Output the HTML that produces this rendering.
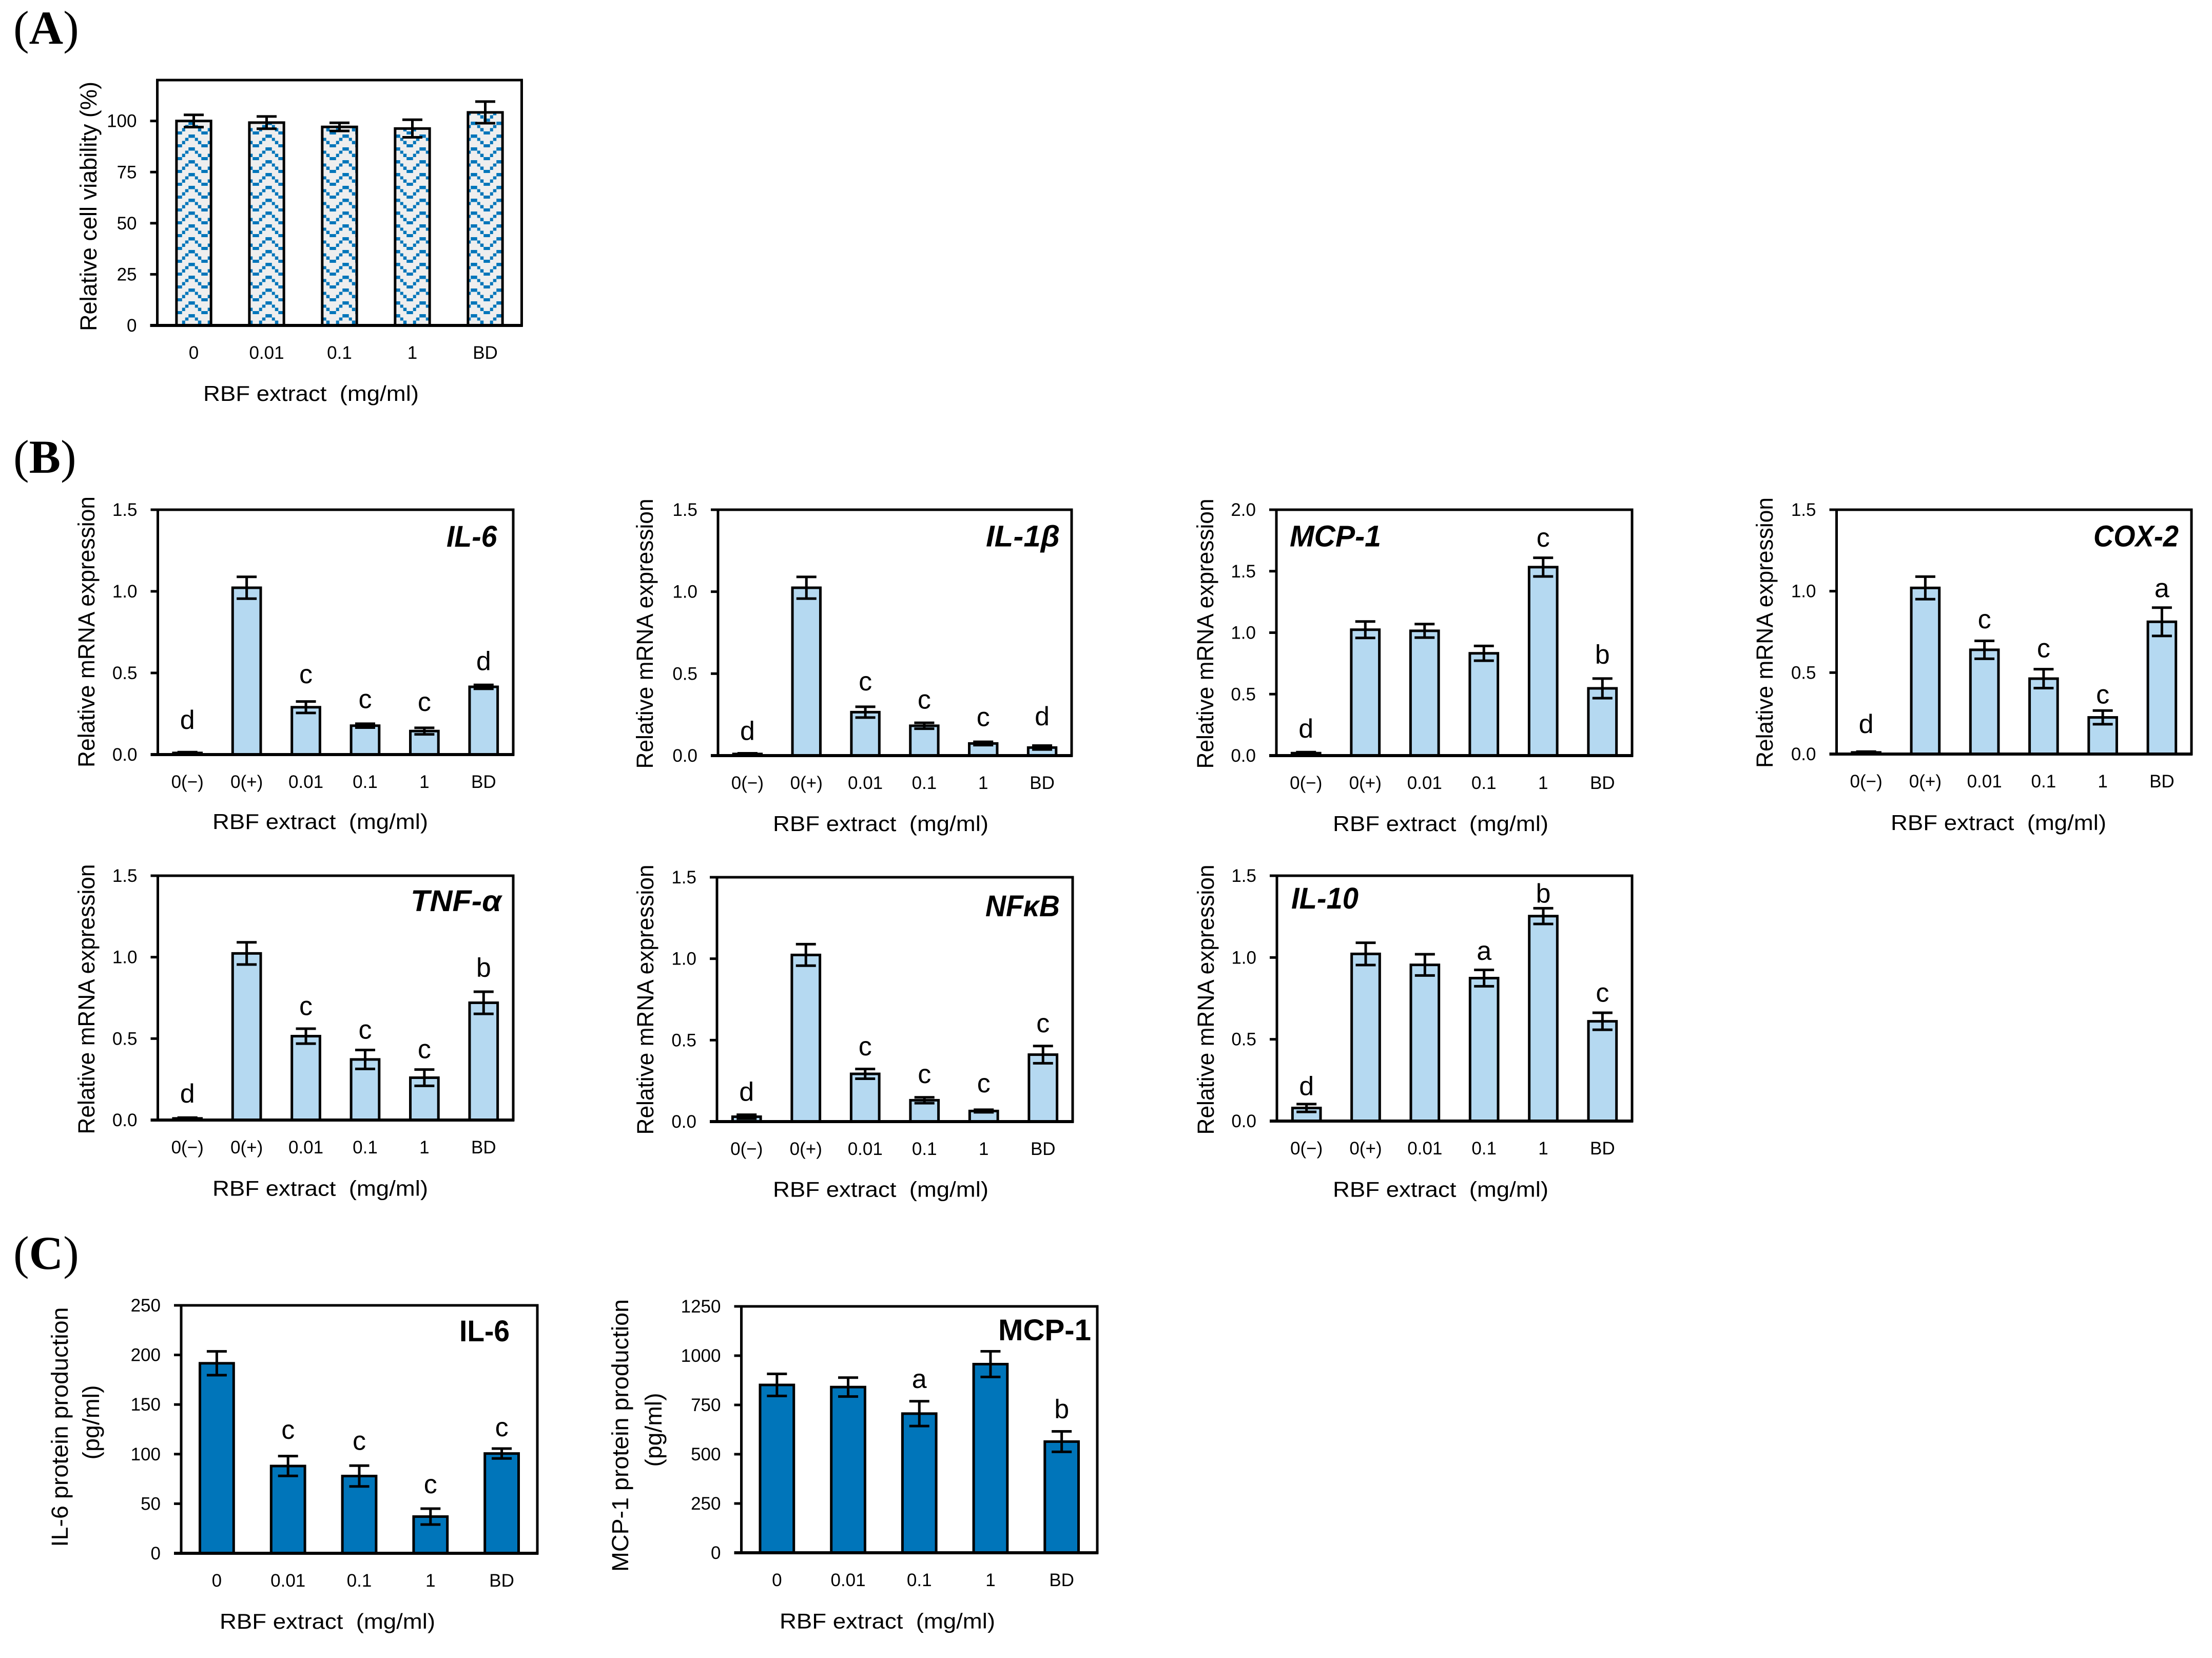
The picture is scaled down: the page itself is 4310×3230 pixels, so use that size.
<!DOCTYPE html>
<html lang="en">
<head>
<meta charset="utf-8">
<title>RBF extract bar charts</title>
<style>
html,body{margin:0;padding:0;background:#fff;}
svg{display:block;}
text{font-family:"Liberation Sans",sans-serif;fill:#000;}
.panel-label{font-family:"Liberation Serif",serif;font-size:92px;}
</style>
</head>
<body>
<svg id="figure" xmlns="http://www.w3.org/2000/svg" width="4310" height="3230" viewBox="0 0 4310 3230">
<defs>
<pattern id="wave" patternUnits="userSpaceOnUse" x="348.25" y="262" width="50" height="25" shape-rendering="crispEdges">
<rect x="0" y="0" width="50" height="25" fill="#eeeeee"/>
<rect x="18.75" y="0" width="12.5" height="6.25" fill="#0075ba"/>
<rect x="12.5" y="6.25" width="6.25" height="6.25" fill="#0075ba"/>
<rect x="31.25" y="6.25" width="6.25" height="6.25" fill="#0075ba"/>
<rect x="6.25" y="12.5" width="6.25" height="6.25" fill="#0075ba"/>
<rect x="37.5" y="12.5" width="6.25" height="6.25" fill="#0075ba"/>
<rect x="0" y="18.75" width="6.25" height="6.25" fill="#0075ba"/>
<rect x="43.75" y="18.75" width="6.25" height="6.25" fill="#0075ba"/>
</pattern>
</defs>
<text class="panel-label" x="26" y="85">(<tspan font-weight="bold">A</tspan>)</text>
<text class="panel-label" x="26" y="921">(<tspan font-weight="bold">B</tspan>)</text>
<text class="panel-label" x="26" y="2472">(<tspan font-weight="bold">C</tspan>)</text>
</svg>
<script>
// Categories
const doseCategories5 = ['0', '0.01', '0.1', '1', 'BD'];
const doseCategories6 = ['0(\u2212)', '0(+)', '0.01', '0.1', '1', 'BD'];

// Axis ticks and their labels
const viabilityTicks = [0, 25, 50, 75, 100];
const viabilityTickLabels = ['0', '25', '50', '75', '100'];
const mrnaTicks = [0, 0.5, 1, 1.5];
const mrnaTickLabels = ['0.0', '0.5', '1.0', '1.5'];
const mcpTicks = [0, 0.5, 1, 1.5, 2];
const mcpTickLabels = ['0.0', '0.5', '1.0', '1.5', '2.0'];
const il6ProteinTicks = [0, 50, 100, 150, 200, 250];
const il6ProteinTickLabels = ['0', '50', '100', '150', '200', '250'];
const mcpProteinTicks = [0, 250, 500, 750, 1000, 1250];
const mcpProteinTickLabels = ['0', '250', '500', '750', '1000', '1250'];

// Series: means, error half-widths, significance letters, letter lift above error cap (value units)
const viabilityValues = [100, 99.2, 97.1, 96.3, 104.2];
const viabilityErrors = [3, 3, 2, 4.3, 5.3];
const viabilityLetters = ['', '', '', '', ''];
const viabilityLifts = [0, 0, 0, 0, 0];

const il6Values = [0.01, 1.022, 0.29, 0.177, 0.144, 0.415];
const il6Errors = [0.005, 0.067, 0.035, 0.012, 0.02, 0.012];
const il6Letters = ['d', '', 'c', 'c', 'c', 'd'];
const il6Lifts = [0.142, 0, 0.112, 0.095, 0.104, 0.091];

const il1bValues = [0.01, 1.024, 0.265, 0.182, 0.074, 0.049];
const il1bErrors = [0.004, 0.066, 0.033, 0.018, 0.01, 0.012];
const il1bLetters = ['d', '', 'c', 'c', 'c', 'd'];
const il1bLifts = [0.082, 0, 0.099, 0.086, 0.096, 0.123];

const mcp1Values = [0.02, 1.024, 1.015, 0.832, 1.533, 0.547];
const mcp1Errors = [0.008, 0.067, 0.055, 0.06, 0.076, 0.08];
const mcp1Letters = ['d', '', '', '', 'c', 'b'];
const mcp1Lifts = [0.119, 0, 0, 0, 0.091, 0.122];

const cox2Values = [0.01, 1.02, 0.64, 0.463, 0.225, 0.812];
const cox2Errors = [0.005, 0.069, 0.055, 0.058, 0.042, 0.087];
const cox2Letters = ['d', '', 'c', 'c', 'c', 'a'];
const cox2Lifts = [0.114, 0, 0.077, 0.073, 0.043, 0.064];

const tnfValues = [0.01, 1.023, 0.515, 0.372, 0.26, 0.72];
const tnfErrors = [0.005, 0.068, 0.046, 0.058, 0.05, 0.068];
const tnfLetters = ['d', '', 'c', 'c', 'c', 'b'];
const tnfLifts = [0.092, 0, 0.083, 0.07, 0.07, 0.092];

const nfkbValues = [0.03, 1.023, 0.293, 0.131, 0.065, 0.411];
const nfkbErrors = [0.012, 0.066, 0.03, 0.018, 0.008, 0.053];
const nfkbLetters = ['d', '', 'c', 'c', 'c', 'c'];
const nfkbLifts = [0.086, 0, 0.083, 0.087, 0.107, 0.085];

const il10Values = [0.08, 1.022, 0.955, 0.874, 1.253, 0.61];
const il10Errors = [0.024, 0.068, 0.065, 0.05, 0.048, 0.052];
const il10Letters = ['d', '', '', 'a', 'b', 'c'];
const il10Lifts = [0.054, 0, 0, 0.061, 0.036, 0.068];

const il6ProteinValues = [191.6, 88, 77.9, 37, 100.6];
const il6ProteinErrors = [12, 10, 10.5, 8, 5];
const il6ProteinLetters = ['', 'c', 'c', 'c', 'c'];
const il6ProteinLifts = [0, 17.4, 16, 15.6, 12.3];

const mcpProteinValues = [851.5, 840.6, 706, 957, 564];
const mcpProteinErrors = [56, 48, 63, 65, 52];
const mcpProteinLetters = ['', '', 'a', '', 'b'];
const mcpProteinLifts = [0, 0, 67, 0, 68];

const SVGNS = 'http://www.w3.org/2000/svg';
const LIGHT = '#b5d9f1';
const DARK = '#0075ba';
const svg = document.getElementById('figure');

const charts = [
  {id:'viability', x0:306.5, x1:1016.5, y0:156, y1:634, ymax:120, cats:doseCategories5, values:viabilityValues, errors:viabilityErrors, letters:viabilityLetters, lifts:viabilityLifts, ticks:viabilityTicks, tickLabels:viabilityTickLabels, fill:'url(#wave)', topTick:false,
   yTitle:'Relative cell viability (%)', yLen:486, yCy:402, yBase:188, xCx:606, xBase:781},
  {id:'il6-mrna', x0:307.5, x1:1000, y0:993, y1:1470, ymax:1.5, cats:doseCategories6, values:il6Values, errors:il6Errors, letters:il6Letters, lifts:il6Lifts, ticks:mrnaTicks, tickLabels:mrnaTickLabels, fill:LIGHT, topTick:true,
   yTitle:'Relative mRNA expression', yLen:528, yCy:1231, yBase:184, xCx:624, xBase:1615,
   gene:'IL-6', geneX:870, geneW:98.5, geneY:1065, italic:true},
  {id:'il1b-mrna', x0:1399, x1:2088, y0:993, y1:1472, ymax:1.5, cats:doseCategories6, values:il1bValues, errors:il1bErrors, letters:il1bLetters, lifts:il1bLifts, ticks:mrnaTicks, tickLabels:mrnaTickLabels, fill:LIGHT, topTick:true,
   yTitle:'Relative mRNA expression', yLen:526, yCy:1234.5, yBase:1272, xCx:1716, xBase:1619,
   gene:'IL-1\u03B2', geneX:1921, geneW:144, geneY:1064.5, italic:true},
  {id:'mcp1-mrna', x0:2487, x1:3180, y0:993, y1:1472, ymax:2, cats:doseCategories6, values:mcp1Values, errors:mcp1Errors, letters:mcp1Letters, lifts:mcp1Lifts, ticks:mcpTicks, tickLabels:mcpTickLabels, fill:LIGHT, topTick:true,
   yTitle:'Relative mRNA expression', yLen:526, yCy:1234.5, yBase:2364, xCx:2807, xBase:1619,
   gene:'MCP-1', geneX:2513, geneW:178, geneY:1064.5, italic:true},
  {id:'cox2-mrna', x0:3578.5, x1:4270, y0:993, y1:1469, ymax:1.5, cats:doseCategories6, values:cox2Values, errors:cox2Errors, letters:cox2Letters, lifts:cox2Lifts, ticks:mrnaTicks, tickLabels:mrnaTickLabels, fill:LIGHT, topTick:true,
   yTitle:'Relative mRNA expression', yLen:527, yCy:1232.5, yBase:3454, xCx:3894, xBase:1617,
   gene:'COX-2', geneX:4079, geneW:166, geneY:1064.5, italic:true},
  {id:'tnf-mrna', x0:307.5, x1:1000, y0:1706, y1:2182, ymax:1.5, cats:doseCategories6, values:tnfValues, errors:tnfErrors, letters:tnfLetters, lifts:tnfLifts, ticks:mrnaTicks, tickLabels:mrnaTickLabels, fill:LIGHT, topTick:true,
   yTitle:'Relative mRNA expression', yLen:526, yCy:1946.5, yBase:184, xCx:624, xBase:2329.5,
   gene:'TNF-\u03B1', geneX:800, geneW:177, geneY:1775, italic:true},
  {id:'nfkb-mrna', x0:1397, x1:2090, y0:1709, y1:2185, ymax:1.5, cats:doseCategories6, values:nfkbValues, errors:nfkbErrors, letters:nfkbLetters, lifts:nfkbLifts, ticks:mrnaTicks, tickLabels:mrnaTickLabels, fill:LIGHT, topTick:true,
   yTitle:'Relative mRNA expression', yLen:526, yCy:1947.5, yBase:1273, xCx:1716, xBase:2331.5,
   gene:'NF\u03BAB', geneX:1920, geneW:145, geneY:1785, italic:true},
  {id:'il10-mrna', x0:2488, x1:3180, y0:1706, y1:2184, ymax:1.5, cats:doseCategories6, values:il10Values, errors:il10Errors, letters:il10Letters, lifts:il10Lifts, ticks:mrnaTicks, tickLabels:mrnaTickLabels, fill:LIGHT, topTick:true,
   yTitle:'Relative mRNA expression', yLen:526, yCy:1947.5, yBase:2365, xCx:2807, xBase:2331.5,
   gene:'IL-10', geneX:2516, geneW:131, geneY:1770, italic:true},
  {id:'il6-protein', x0:353, x1:1047, y0:2543, y1:3026, ymax:250, cats:doseCategories5, values:il6ProteinValues, errors:il6ProteinErrors, letters:il6ProteinLetters, lifts:il6ProteinLifts, ticks:il6ProteinTicks, tickLabels:il6ProteinTickLabels, fill:DARK, topTick:true,
   yTitle:'IL-6 protein production', yLen:467, yCy:2780, yBase:132, yTitle2:'(pg/ml)', y2Len:145, y2Cy:2771, y2Base:193, xCx:638, xBase:3173,
   gene:'IL-6', geneX:895, geneW:98, geneY:2613, italic:false},
  {id:'mcp1-protein', x0:1444.5, x1:2138, y0:2545, y1:3025, ymax:1250, cats:doseCategories5, values:mcpProteinValues, errors:mcpProteinErrors, letters:mcpProteinLetters, lifts:mcpProteinLifts, ticks:mcpProteinTicks, tickLabels:mcpProteinTickLabels, fill:DARK, topTick:true,
   yTitle:'MCP\u20111 protein production', yLen:531, yCy:2796.5, yBase:1224, yTitle2:'(pg/ml)', y2Len:144, y2Cy:2785.5, y2Base:1289, xCx:1729, xBase:3172.5,
   gene:'MCP-1', geneX:1945, geneW:181, geneY:2611, italic:false}
];

function make(tag, attrs, parent) {
  const node = document.createElementNS(SVGNS, tag);
  for (const key in attrs) node.setAttribute(key, attrs[key]);
  parent.appendChild(node);
  return node;
}
function yScale(c, v) {
  return c.y1 - (v / c.ymax) * (c.y1 - c.y0);
}
function xBand(c) {
  return (c.x1 - c.x0) / c.cats.length;
}
function xScale(c, i) {
  return c.x0 + (i + 0.5) * xBand(c);
}
function line(parent, x1, y1, x2, y2, w) {
  return make('line', {x1: x1, y1: y1, x2: x2, y2: y2, stroke: '#000', 'stroke-width': w}, parent);
}

function drawChart(c) {
  const g = make('g', {}, svg);
  
  
  const barW = xBand(c) * 0.474;

  c.values.forEach(function (v, i) {
    const cx = xScale(c, i);
    const top = yScale(c, v);
    const bar = make('rect', {x: cx - barW / 2, y: top, width: barW, height: c.y1 - top, fill: c.fill, stroke: '#000', 'stroke-width': 5}, g);
    
    

    const hi = yScale(c, v + c.errors[i]);
    const lo = yScale(c, Math.max(0, v - c.errors[i]));
    const stem = line(g, cx, hi, cx, lo, 5);
    
    
    const capTop = line(g, cx - 19.5, hi, cx + 19.5, hi, 5);
    
    
    const capLow = line(g, cx - 19.5, lo, cx + 19.5, lo, 5);
    
    

    if (c.letters[i]) {
      const letter = make('text', {x: cx, y: yScale(c, v + c.errors[i] + c.lifts[i]), 'text-anchor': 'middle', 'font-size': 52}, g);
      letter.textContent = c.letters[i];
      
      
    }

    const tick = make('text', {x: cx, y: c.y1 + 65, 'text-anchor': 'middle', 'font-size': 35}, g);
    tick.textContent = c.cats[i];
    
    
  });

  const frame = make('rect', {x: c.x0, y: c.y0, width: c.x1 - c.x0, height: c.y1 - c.y0, fill: 'none', stroke: '#000', 'stroke-width': 5}, g);
  
  
  const base = line(g, c.x0 - 14, c.y1, c.x1 + 2, c.y1, 6);
  
  

  c.ticks.forEach(function (t, i) {
    const ty = yScale(c, t);
    const mark = line(g, c.x0 - 14, ty, c.x0, ty, 5);
    
    
    const label = make('text', {x: c.x0 - 40, y: ty + 12, 'text-anchor': 'end', 'font-size': 35}, g);
    label.textContent = c.tickLabels[i];
    
    
  });

  const yt = make('text', {x: c.yBase, y: c.yCy, transform: 'rotate(-90 ' + c.yBase + ' ' + c.yCy + ')', 'text-anchor': 'middle', 'font-size': 45, textLength: c.yLen, lengthAdjust: 'spacingAndGlyphs'}, g);
  yt.textContent = c.yTitle;
  
  
  if (c.yTitle2) {
    const yt2 = make('text', {x: c.y2Base, y: c.y2Cy, transform: 'rotate(-90 ' + c.y2Base + ' ' + c.y2Cy + ')', 'text-anchor': 'middle', 'font-size': 45, textLength: c.y2Len, lengthAdjust: 'spacingAndGlyphs'}, g);
    yt2.textContent = c.yTitle2;
    
    
  }

  const xt = make('text', {x: c.xCx, y: c.xBase, 'text-anchor': 'middle', 'font-size': 42, textLength: 420, lengthAdjust: 'spacingAndGlyphs'}, g);
  xt.textContent = 'RBF extract\u00A0\u00A0(mg/ml)';
  
  

  if (c.gene) {
    const gene = make('text', {x: c.geneX, y: c.geneY, 'font-size': 58, 'font-weight': 'bold', 'font-style': c.italic ? 'italic' : 'normal', textLength: c.geneW, lengthAdjust: 'spacingAndGlyphs'}, g);
    gene.textContent = c.gene;
    
    
  }
}

charts.forEach(drawChart);
</script>
</body>
</html>
